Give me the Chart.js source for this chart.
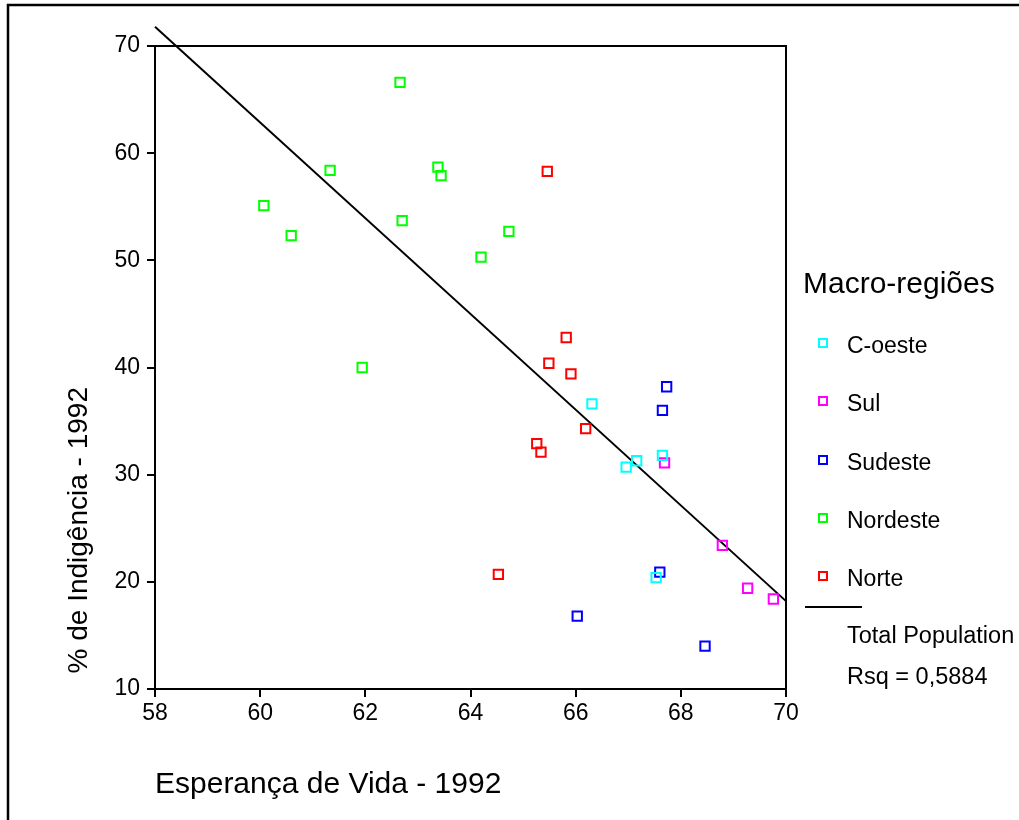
<!DOCTYPE html>
<html>
<head>
<meta charset="utf-8">
<script src="https://cdn.jsdelivr.net/npm/chart.js@4.4.0/dist/chart.umd.min.js"></script>
<style>
  html, body { margin: 0; padding: 0; background: #fff; }
  #wrap { width: 1019px; height: 820px; position: relative; }
</style>
</head>
<body>
<div id="wrap"><canvas id="myChart"></canvas></div>
<script>
// data: [esperança de vida, % indigência]
const regions = ['C-oeste', 'Sul', 'Sudeste', 'Nordeste', 'Norte'];
const regionColors = ['#00ffff', '#ff00ff', '#0000ff', '#00ff00', '#ff0000'];

const cOeste = [[66.31, 36.6], [67.16, 31.3], [66.96, 30.7], [67.65, 31.8], [67.53, 20.4]];
const sul = [[67.69, 31.1], [68.79, 23.4], [69.27, 19.4], [69.76, 18.4]];
const sudeste = [[67.73, 38.2], [67.65, 36.0], [67.60, 20.9], [66.03, 16.8], [68.46, 14.0]];
const nordeste = [[62.66, 66.6], [61.33, 58.4], [63.38, 58.7], [63.44, 57.9], [60.07, 55.1],
                  [62.70, 53.7], [60.59, 52.3], [64.73, 52.7], [64.20, 50.3], [61.94, 40.0]];
const norte = [[65.46, 58.3], [65.82, 42.8], [65.49, 40.4], [65.91, 39.4], [66.19, 34.3],
               [65.26, 32.9], [65.34, 32.1], [64.53, 20.7]];

// fit line (Total Population) end points
const fitLine = [[58, 71.8], [70, 18.2]];
const rsqText = 'Rsq = 0,5884';

const xTicks = [58, 60, 62, 64, 66, 68, 70];
const yTicks = [10, 20, 30, 40, 50, 60, 70];

const FONT = 'Liberation Sans';

function toPoints(arr) {
    return arr.map(p => ({ x: p[0], y: p[1] }));
}

const seriesData = [cOeste, sul, sudeste, nordeste, norte];

const datasets = seriesData.map((s, i) => ({
    label: regions[i],
    data: toPoints(s),
    pointStyle: 'rect',
    pointRadius: 6.6,
    pointBorderWidth: 2,
    pointBackgroundColor: 'rgba(0,0,0,0)',
    pointBorderColor: regionColors[i],
    showLine: false
}));

datasets.push({
    label: 'Total Population',
    data: toPoints(fitLine),
    showLine: true,
    borderColor: '#000',
    borderWidth: 2,
    pointRadius: 0,
    clip: false
});

// frame of the plot, outer border and the side legend
const extrasPlugin = {
    id: 'extras',
    afterDraw(chart) {
        const ctx = chart.ctx;
        const a = chart.chartArea;
        ctx.save();
        ctx.strokeStyle = '#000';
        ctx.lineWidth = 2;
        ctx.beginPath();
        ctx.moveTo(a.left, a.top);
        ctx.lineTo(a.right, a.top);
        ctx.lineTo(a.right, a.bottom);
        ctx.stroke();

        ctx.lineWidth = 2.5;
        ctx.beginPath();
        ctx.moveTo(8, 820);
        ctx.lineTo(8, 5);
        ctx.lineTo(1019, 5);
        ctx.stroke();

        ctx.fillStyle = '#000';
        ctx.textBaseline = 'middle';
        ctx.textAlign = 'left';
        ctx.font = '30px "' + FONT + '"';
        ctx.fillText('Macro-regiões', 803, 285);

        const rowY = [343, 401, 460, 518, 576];
        ctx.font = '23px "' + FONT + '"';
        regions.forEach((r, i) => {
            ctx.strokeStyle = regionColors[i];
            ctx.lineWidth = 2;
            ctx.strokeRect(819, rowY[i] - 4, 8, 8);
            ctx.fillStyle = '#000';
            ctx.fillText(r, 847, rowY[i] + 4);
        });

        ctx.strokeStyle = '#000';
        ctx.lineWidth = 2;
        ctx.beginPath();
        ctx.moveTo(805, 607);
        ctx.lineTo(862, 607);
        ctx.stroke();

        ctx.font = '23.5px "' + FONT + '"';
        ctx.fillText('Total Population', 847, 637);
        ctx.fillText(rsqText, 847, 678);
        ctx.restore();
    }
};

const ctx = document.getElementById('myChart').getContext('2d');
const myChart = new Chart(ctx, {
    type: 'scatter',
    data: { datasets: datasets },
    options: {
        responsive: true,
        maintainAspectRatio: false,
        animation: false,
        layout: { padding: { left: 0, right: 233, top: 46, bottom: 0 } },
        plugins: {
            legend: { display: false },
            tooltip: { enabled: false }
        },
        scales: {
            x: {
                type: 'linear',
                min: 58,
                max: 70,
                afterBuildTicks: scale => { scale.ticks = xTicks.map(v => ({ value: v })); },
                afterFit: scale => { scale.height = 131; },
                grid: { drawOnChartArea: false, drawTicks: true, tickLength: 8, color: '#000', lineWidth: 2 },
                border: { color: '#000', width: 2 },
                ticks: { color: '#000', padding: 3, font: { family: FONT, size: 23 } },
                title: {
                    display: true,
                    text: 'Esperança de Vida - 1992',
                    align: 'start',
                    color: '#000',
                    font: { family: FONT, size: 30 },
                    padding: { top: 0, bottom: 17 }
                }
            },
            y: {
                type: 'linear',
                min: 10,
                max: 70,
                afterBuildTicks: scale => { scale.ticks = yTicks.map(v => ({ value: v })); },
                afterFit: scale => { scale.width = 155; },
                grid: { drawOnChartArea: false, drawTicks: true, tickLength: 8, color: '#000', lineWidth: 2 },
                border: { color: '#000', width: 2 },
                ticks: { color: '#000', padding: 7, font: { family: FONT, size: 23 } },
                title: {
                    display: true,
                    text: '  % de Indigência - 1992',
                    align: 'start',
                    color: '#000',
                    font: { family: FONT, size: 28 },
                    padding: { top: 62, bottom: 0 }
                }
            }
        }
    },
    plugins: [extrasPlugin]
});
</script>
</body>
</html>
